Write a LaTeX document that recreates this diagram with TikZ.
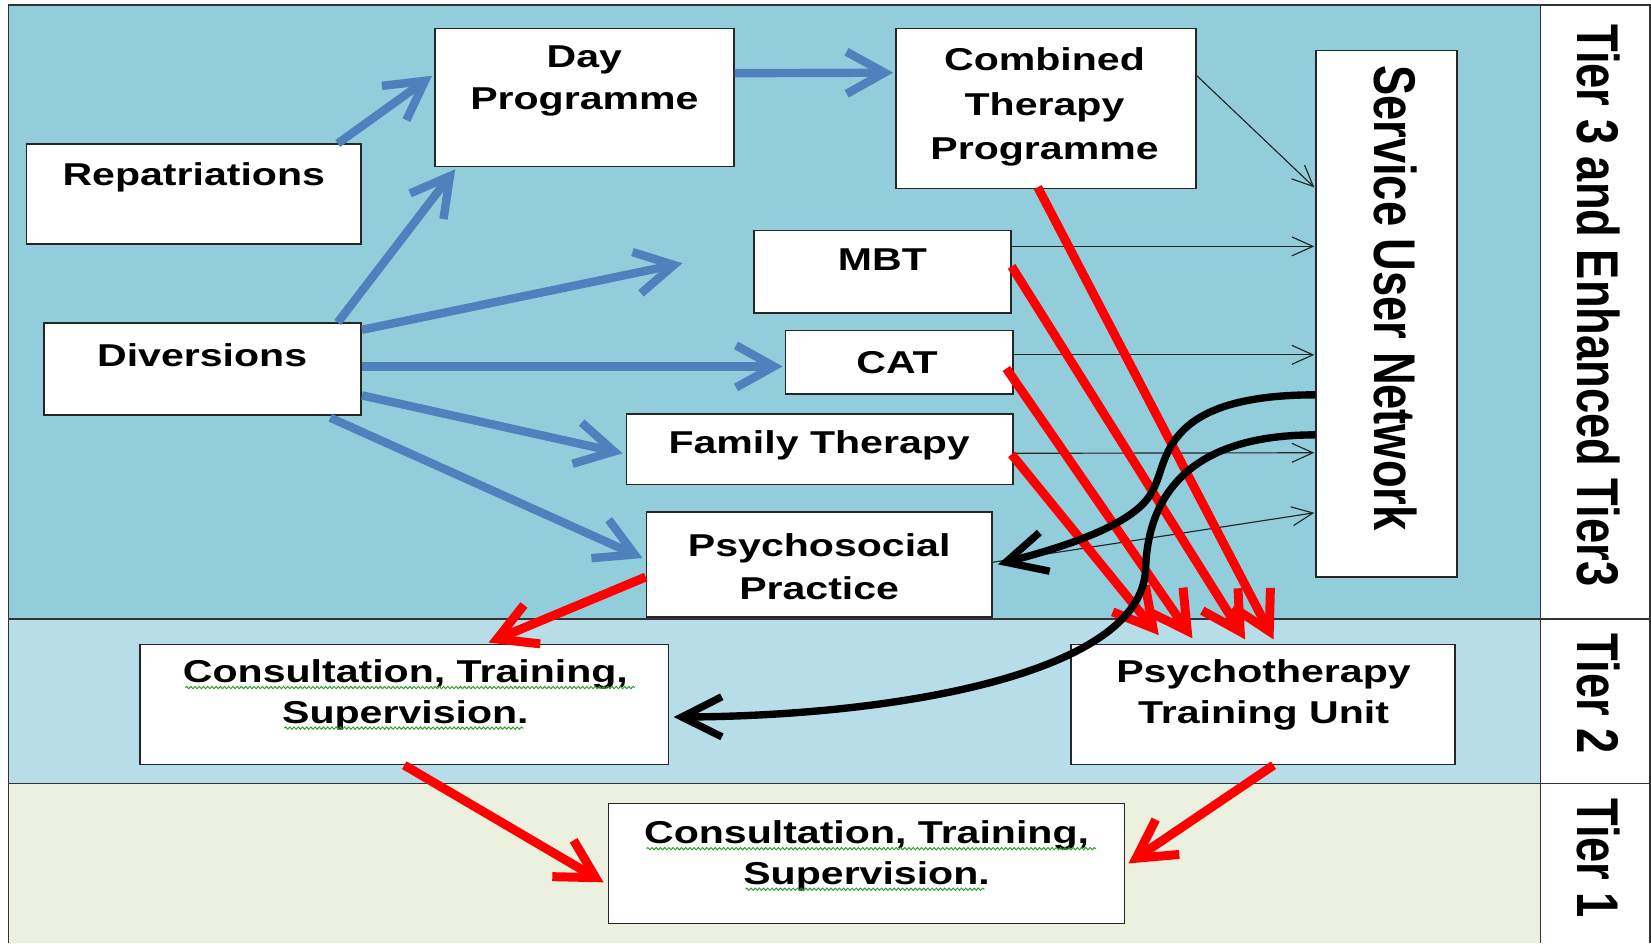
\documentclass[tikz,border=0pt]{standalone}
\usepackage{fontspec}
\setmainfont{Liberation Sans}
\usetikzlibrary{arrows.meta,calc,decorations.pathmorphing}
\definecolor{tierA}{RGB}{146,205,220}
\definecolor{tierB}{RGB}{183,221,232}
\definecolor{tierC}{RGB}{235,241,222}
\definecolor{oblue}{RGB}{79,129,189}
\definecolor{spell}{RGB}{40,160,40}
\newcommand{\bxt}[2][40]{\scalebox{1.3}[1]{\fontsize{30}{#1}\selectfont\bfseries\begin{tabular}{@{}c@{}}#2\end{tabular}}}
\newcommand{\vtxt}[1]{\scalebox{1.3}[1]{\rotatebox{-90}{\fontsize{43}{50}\selectfont\bfseries #1}}}
\begin{document}
\begin{tikzpicture}[x=1pt,y=-1pt,
  box/.style={draw=black!85, line width=1.5pt, fill=white, inner sep=0pt},
  txt/.style={inner sep=0pt, align=center},
  framel/.style={draw=black!80, line width=1.6pt},
  bluearr/.style={draw=oblue, line width=8pt, -{Straight Barb[length=36pt,width=40pt]}},
  redarr/.style={draw=red, line width=8.5pt, -{Straight Barb[length=36pt,width=40pt]}},
  blackarr/.style={draw=black, line width=7pt, -{Straight Barb[length=38pt,width=38pt]}},
  thinarr/.style={draw=black!85, line width=1.1pt, -{Straight Barb[length=20pt,width=18pt]}},
  squig/.style={draw=spell, line width=0.9pt, decorate, decoration={snake, amplitude=1.1pt, segment length=4pt}}
]
\useasboundingbox (0,0) rectangle (1568,896);
% bands
\fill[tierA] (8,5) rectangle (1463,588);
\fill[tierB] (8,588) rectangle (1463,744);
\fill[tierC] (8,744) rectangle (1463,896);
\fill[white] (1463,5) rectangle (1567,896);
\draw[framel] (8,896) -- (8,5) -- (1567,5) -- (1567,896);
\draw[framel] (1463,5) -- (1463,896);
\draw[framel] (8,588) -- (1567,588);
\draw[framel] (8,744) -- (1567,744);

% tier labels
\node[txt] (tier3T) at (1518,290) {\vtxt{Tier 3 and Enhanced Tier3}};
\node[txt] (tier2T) at (1518,659) {\vtxt{Tier 2}};
\node[txt] (tier1T) at (1518,815) {\vtxt{Tier 1}};

% boxes
\node[box, minimum width=318pt, minimum height=95pt] (rep) at (184,184.5) {};
\node[box, minimum width=284pt, minimum height=131pt] (day) at (555,92.5) {};
\node[box, minimum width=285pt, minimum height=152pt] (comb) at (993.5,103) {};
\node[box, minimum width=134pt, minimum height=500pt] (sun) at (1317,298) {};
\node[box, minimum width=244pt, minimum height=78pt] (mbt) at (838,258) {};
\node[box, minimum width=216pt, minimum height=60pt] (cat) at (854,344) {};
\node[box, minimum width=301pt, minimum height=87pt] (div) at (192.5,350.5) {};
\node[box, minimum width=367pt, minimum height=67pt] (fam) at (778.5,426.5) {};
\node[box, minimum width=328pt, minimum height=100pt] (psy) at (778,536) {};
\node[box, minimum width=502pt, minimum height=114pt] (cts2) at (384,669) {};
\node[box, minimum width=365pt, minimum height=114pt] (ptu) at (1199.5,669) {};
\node[box, minimum width=490pt, minimum height=114pt] (cts1) at (823,820) {};

% texts
\node[txt] (repT) at (184,168) {\bxt{Repatriations}};
\node[txt] (dayT) at (555,76) {\bxt{Day\\Programme}};
\node[txt] (combT) at (992,101) {\bxt[42]{Combined\\Therapy\\Programme}};
\node[txt] (mbtT) at (838,249) {\bxt{MBT}};
\node[txt] (catT) at (852,347) {\bxt{CAT}};
\node[txt] (divT) at (192,340) {\bxt{Diversions}};
\node[txt] (famT) at (778,423) {\bxt{Family Therapy}};
\node[txt] (psyT) at (778,540.5) {\bxt[41]{Psychosocial\\Practice}};
\node[txt] (cts2T) at (385,660) {\bxt[39]{Consultation, Training,\\Supervision.}};
\node[txt] (ptuT) at (1200,660) {\bxt[39]{Psychotherapy\\Training Unit}};
\node[txt] (cts1T) at (823,813) {\bxt[39]{Consultation, Training,\\Supervision.}};
\node[txt] (sunT) at (1325,283) {\vtxt{Service User Network}};

% spell-check underlines
\foreach \n in {cts2T,cts1T}{
  \draw[squig] ($(\n.center)+(-209,-7)$) -- ($(\n.center)+(218,-7)$);
  \draw[squig] ($(\n.center)+(-115,31.5)$) -- ($(\n.center)+(112,31.5)$);
}

% free end of the diversion arrow towards MBT
\coordinate (mbtIn) at (648,250);

% blue arrows
\draw[bluearr] ($(rep.north east)+(-23,0)$) -- ($(day.west)+(-2,-20.5)$);
\draw[bluearr] ($(div.north east)+(-23,0)$) -- ($(day.south west)+(20,2)$);
\draw[bluearr] ($(div.north east)+(0,7)$) -- (mbtIn);
\draw[bluearr] ($(div.east)+(0,-2.5)$) -- ($(cat.west)+(-2,4)$);
\draw[bluearr] ($(div.east)+(0,25)$) -- ($(fam.west)+(-3,4)$);
\draw[bluearr] ($(div.south east)+(-30,2)$) -- ($(psy.west)+(-3,-6)$);
\draw[bluearr] ($(day.east)+(0,-23)$) -- ($(comb.west)+(-2,-34)$);

% thin arrows to the service user network
\draw[thinarr] ($(comb.east)+(0,-31)$) -- ($(sun.west)+(-1,-120)$);
\draw[thinarr] ($(mbt.east)+(0,-24)$) -- ($(sun.west)+(-1,-64)$);
\draw[thinarr] ($(cat.east)+(0,-7)$) -- ($(sun.west)+(-1,39)$);
\draw[thinarr] ($(fam.east)+(0,4)$) -- ($(sun.west)+(-1,132)$);
\draw[thinarr] ($(psy.east)+(0,-2)$) -- ($(sun.west)+(-1,189)$);

% red arrows
\draw[redarr] ($(comb.south)+(-8,-2)$) -- ($(ptu.north)+(10,-4)$);
\draw[redarr] ($(mbt.east)+(0,-5)$) -- ($(ptu.north)+(-17,-4)$);
\draw[redarr] ($(cat.east)+(-7,6)$) -- ($(ptu.north)+(-67,-5)$);
\draw[redarr] ($(fam.east)+(-2,5)$) -- ($(ptu.north)+(-99,-8)$);
\draw[redarr] ($(psy.west)+(0,12)$) -- ($(cts2.north)+(80,-1)$);
\draw[redarr] (cts2.south) -- ($(cts1.west)+(-4,18)$);
\draw[redarr] ($(ptu.south)+(10,0)$) -- ($(cts1.east)+(3,0)$);

% black curved arrows
\draw[blackarr] ($(sun.west)+(0,77)$) .. controls (1100,375) and (1110,440) .. (1095,465)
   .. controls (1080,500) and (1000,522) .. ($(psy.east)+(5,0)$);
\draw[blackarr] ($(sun.west)+(0,115)$) .. controls (1120,413) and (1090,480) .. (1088,540)
   .. controls (1085,640) and (850,680) .. ($(cts2.east)+(4,12)$);
\end{tikzpicture}
\end{document}
